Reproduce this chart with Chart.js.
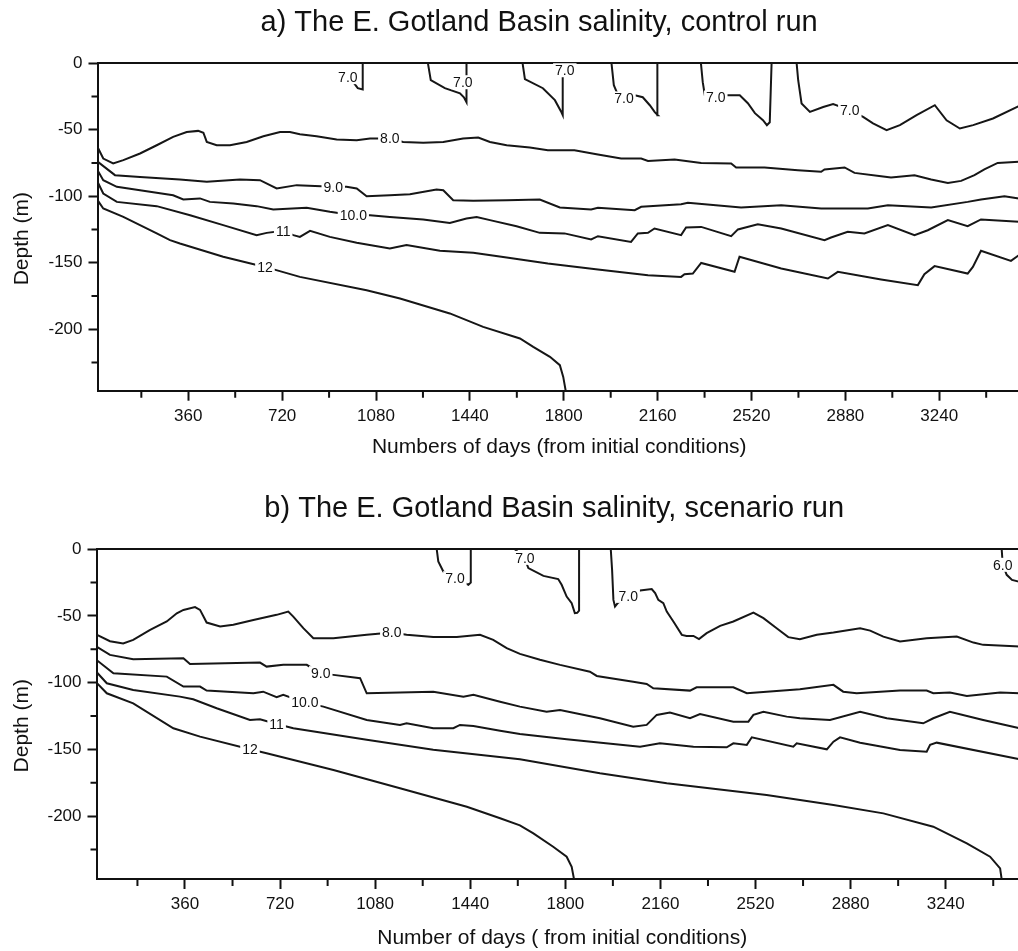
<!DOCTYPE html>
<html>
<head>
<meta charset="utf-8">
<script src="https://cdn.jsdelivr.net/npm/chart.js"></script>
<style>
  html, body { margin: 0; padding: 0; background: #fff; overflow: hidden; width: 1018px; height: 951px; }
  .panel { position: absolute; left: 0; }
</style>
</head>
<body>
<div class="panel" style="top:0; width:1021px; height:486px"><canvas id="ctl"></canvas></div>
<div class="panel" style="top:486px; width:1028px; height:486px"><canvas id="scn"></canvas></div>
<script>
// axis ticks
const xMajorTicks = [360, 720, 1080, 1440, 1800, 2160, 2520, 2880, 3240];
const xMinorTicks = [180, 540, 900, 1260, 1620, 1980, 2340, 2700, 3060, 3420];
const yMajorTicks = [0, -50, -100, -150, -200];
const yMinorTicks = [-25, -75, -125, -175, -225];

// a) control run: isohalines as [day, depth], null = break between pieces
const ctl7 = [
  [965, -6], [987, -12.8], [1010, -18.8], [1029, -19.8], [1029, 0], null,
  [1279, 0], [1290, -12.8], [1344, -18.8], [1402, -22.6], [1417, -25.6], [1427, -29.3], [1427, 0], null,
  [1642, 0], [1651, -12], [1720, -18.8], [1766, -27.8], [1789, -36.1], [1796, -39.1], [1796, 0], null,
  [1983, 0], [1992, -16.5], [2008, -24], [2031, -26.5], [2073, -24.1], [2103, -25.6], [2130, -31.6], [2149, -36.8], [2161, -39.1], [2159, 0], null,
  [2326, 0], [2333, -14.3], [2341, -24.1], [2383, -25.8], [2425, -24.1], [2475, -24.1], [2506, -30.1], [2533, -37.6], [2564, -42.9], [2579, -46.6], [2590, -44.4], [2597, 0], null,
  [2693, 0], [2699, -12.8], [2712, -30.3], [2744, -36.6], [2795, -32.9], [2833, -30.8], [2897, -35.3], [2948, -40.4], [2986, -45.3], [3038, -50.4], [3089, -46.6], [3153, -39.1], [3223, -31.6], [3268, -42.9], [3319, -49.1], [3370, -46.6], [3446, -41.6], [3545, -32.3]
];
const ctl8 = [
  [12, -63], [34, -71.7], [72, -75.4], [111, -72.9], [175, -67.9], [239, -61.7], [302, -55.4], [354, -51.7], [398, -50.9], [418, -52.3], [431, -59.2],
  [469, -61.7], [520, -61.7], [584, -59.2], [648, -54.9], [712, -51.7], [750, -51.7], [788, -53.4], [852, -54.9], [929, -57.4], [1006, -57.9], [1057, -56.6],
  [1133, -56.6], [1184, -59.2], [1261, -59.9], [1338, -59.2], [1414, -56.6], [1472, -55.9], [1517, -59.2], [1581, -61.7], [1670, -63.4], [1739, -65.4],
  [1841, -65.4], [1931, -68.6], [2020, -71.7], [2097, -71.7], [2123, -73.5], [2225, -72.4], [2327, -75], [2442, -75.4], [2461, -78.4], [2570, -78.4],
  [2698, -80.5], [2787, -81.7], [2800, -79.9], [2877, -78.4], [2915, -82.5], [3017, -85], [3055, -85.9], [3145, -84.2], [3209, -87.4], [3273, -90],
  [3324, -88.5], [3375, -84.2], [3413, -79.9], [3464, -75], [3545, -74.2]
];
const ctl9 = [
  [12, -74], [79, -84.2], [175, -85.5], [328, -87.4], [431, -89.2], [558, -87.4], [635, -88], [699, -94.2], [776, -91.7], [916, -93], [967, -93],
  [1006, -94.2], [1044, -100], [1133, -99.3], [1210, -98.5], [1312, -95], [1338, -95.5], [1376, -103], [1453, -103.5], [1581, -103], [1708, -102.5],
  [1785, -108.5], [1905, -110], [1931, -108.8], [2072, -110.5], [2097, -108], [2250, -106], [2276, -105], [2480, -108.5], [2634, -106.8], [2787, -109.3],
  [2966, -109.3], [3043, -106.8], [3209, -108.5], [3349, -104.3], [3400, -102.5], [3490, -100], [3545, -101.7]
];
const ctl10 = [
  [12, -80.5], [34, -88], [86, -93], [175, -95.5], [302, -99.3], [341, -102.5], [405, -101.7], [443, -104.3], [533, -105.5], [622, -107.5], [686, -110],
  [814, -108.8], [903, -111.8], [993, -114.3], [1057, -114.3], [1133, -115.6], [1261, -117.5], [1363, -120.1], [1427, -116.8], [1466, -115.6], [1517, -118],
  [1619, -122.6], [1708, -127.6], [1803, -128], [1905, -132.6], [1931, -130.1], [2058, -134.4], [2084, -128], [2123, -127.6], [2148, -124.3], [2250, -129.3],
  [2269, -123.5], [2327, -123.1], [2442, -130.1], [2468, -125], [2544, -121.1], [2634, -124.3], [2800, -133.1], [2825, -131.1], [2889, -126.8], [2953, -128],
  [3043, -121.8], [3145, -129.3], [3196, -125.6], [3273, -118], [3349, -122.6], [3400, -117.5], [3545, -119.3]
];
const ctl11 = [
  [12, -89.2], [34, -98], [86, -104.3], [239, -107.5], [367, -114.3], [494, -121.8], [622, -129.3], [661, -127.6], [724, -126.1], [763, -129.3], [788, -130.6],
  [827, -126.1], [903, -130.6], [1006, -135.1], [1133, -139.3], [1197, -136.8], [1325, -141.1], [1453, -142.6], [1581, -146.1], [1739, -150.6], [1931, -155.1],
  [2123, -159.4], [2250, -160.7], [2263, -158.7], [2295, -158.2], [2327, -150.2], [2455, -156.9], [2474, -145.6], [2634, -154.4], [2813, -161.9], [2851, -156.9],
  [3017, -162.6], [3158, -166.9], [3183, -158.7], [3222, -152.6], [3349, -158.2], [3369, -153.2], [3400, -141.1], [3515, -148.7], [3545, -144.4]
];
const ctl12 = [
  [12, -103], [34, -109.3], [111, -115.6], [239, -128], [290, -133.1], [328, -135.6], [494, -145.6], [654, -153.2], [788, -160.7], [1044, -170.7],
  [1172, -176.9], [1363, -188.2], [1491, -198.3], [1632, -207], [1683, -213.3], [1747, -220.8], [1785, -227.1], [1798, -235.9], [1808, -247]
];
const ctlLabels = [
  ['7.0', 972, -10.5], ['7.0', 1413, -14.3], ['7.0', 1804, -5.3], ['7.0', 2031, -26.5], ['7.0', 2383, -25.8], ['7.0', 2897, -35.3],
  ['8.0', 1133, -56.6], ['9.0', 916, -93], ['10.0', 993, -114.3], ['11', 724, -126.1], ['12', 654, -153.2]
];

// b) scenario run
const scn6 = [[3452, 0], [3456, -11.7], [3471, -19.2], [3491, -23], [3520, -24.5]];
const scn7 = [
  [1313, 0], [1319, -9.2], [1338, -16.7], [1382, -21.7], [1433, -26.7], [1442, -25], [1442, 0], null,
  [1609, 0], [1647, -7.4], [1660, -14.2], [1717, -20], [1773, -22.4], [1786, -26.7], [1805, -35.5], [1824, -40.4], [1836, -47.9], [1845, -47.7], [1852, -46], [1852, 0], null,
  [1972, 0], [1977, -15.5], [1982, -38], [1988, -43], [1999, -40.2], [2038, -35], [2083, -31], [2127, -29.9], [2140, -32.9], [2152, -38], [2171, -40.4],
  [2184, -46.7], [2209, -54.2], [2241, -64.2], [2259, -65], [2285, -65], [2306, -67.4], [2335, -62.9], [2386, -57.5], [2436, -54.2], [2512, -47.5],
  [2550, -51.7], [2600, -59.2], [2644, -65.9], [2688, -67.4], [2752, -64.2], [2815, -62.5], [2916, -59.2], [2954, -61], [3004, -65.5], [3067, -69.2],
  [3168, -66.7], [3282, -65.5], [3345, -70], [3382, -71.7], [3520, -73]
];
const scn8 = [
  [25, -64], [76, -69], [126, -70.7], [164, -68], [228, -60.5], [291, -54.2], [329, -48], [354, -45.5], [398, -43.4], [417, -45.5], [442, -55], [493, -58],
  [543, -56.7], [619, -53], [707, -49.2], [751, -46.7], [770, -50.5], [808, -59.2], [846, -66.7], [922, -66.7], [1048, -64.2], [1143, -62.5], [1199, -64.2],
  [1300, -65.9], [1389, -65.9], [1477, -64.2], [1527, -68], [1578, -74.2], [1628, -78.5], [1704, -82.9], [1780, -86.7], [1893, -91.8], [1919, -95],
  [2057, -99.3], [2108, -101], [2133, -104.2], [2272, -106], [2297, -103.5], [2436, -103.5], [2487, -108], [2562, -106.8], [2688, -105], [2815, -101.7],
  [2852, -106.8], [2903, -108], [3067, -106], [3168, -106], [3193, -108], [3256, -107.5], [3320, -110], [3446, -107.5], [3520, -108]
];
const scn9 = [
  [25, -73], [76, -79.2], [164, -82.4], [354, -81.7], [379, -86], [644, -85], [669, -88], [732, -86.7], [821, -86.7], [871, -92.9], [922, -94.2],
  [1023, -96.7], [1048, -108], [1300, -106.8], [1414, -110.5], [1452, -109.2], [1553, -114.3], [1628, -118], [1729, -121.8], [1780, -120.5], [1931, -126.7],
  [2057, -133], [2108, -131.7], [2146, -124.2], [2196, -122.5], [2272, -126.7], [2310, -123.5], [2436, -129.3], [2493, -129.3], [2512, -124.2], [2550, -121.8],
  [2638, -125.5], [2688, -126.7], [2802, -128], [2916, -121.8], [3017, -126.7], [3155, -130.5], [3193, -126.7], [3256, -121.8], [3382, -128], [3520, -134.2]
];
const scn10 = [
  [25, -83], [89, -93], [291, -95.5], [354, -103], [417, -103], [442, -106], [619, -108], [656, -106.8], [707, -111], [732, -109.2], [814, -115], [884, -118],
  [1048, -128], [1174, -131.7], [1199, -130.5], [1300, -134.2], [1376, -134.2], [1401, -131.7], [1452, -132.5], [1553, -136], [1628, -138.5], [1805, -142.5],
  [2083, -148], [2158, -145.5], [2285, -148], [2411, -148.5], [2436, -145.5], [2487, -146.7], [2506, -141], [2663, -148], [2676, -145.5], [2790, -150],
  [2815, -144.3], [2840, -141], [2916, -145], [3067, -150.5], [3168, -151.8], [3181, -146.7], [3206, -145], [3520, -157.5]
];
const scn11 = [
  [25, -92], [64, -100.5], [164, -105.5], [341, -110.5], [391, -112.5], [480, -119.2], [606, -128], [644, -127.5], [707, -131], [770, -134.2], [1048, -142.8],
  [1300, -150.3], [1628, -157.5], [1931, -168], [2184, -175.5], [2562, -184.3], [2815, -191.8], [3004, -198], [3193, -208], [3320, -220.5], [3408, -230.5],
  [3446, -239.2], [3452, -247.5]
];
const scn12 = [
  [25, -100], [64, -108], [164, -115.5], [316, -134.2], [417, -140.5], [606, -150], [669, -153], [922, -165.5], [1174, -179.2], [1427, -193], [1553, -201.7],
  [1628, -207], [1679, -213], [1754, -223], [1805, -230.5], [1824, -238], [1833, -247.5]
];
const scnLabels = [
  ['7.0', 1382, -21.7], ['7.0', 1647, -6.5], ['7.0', 2038, -35], ['6.0', 3456, -11.7],
  ['8.0', 1143, -62.5], ['9.0', 874, -92.9], ['10.0', 814, -115], ['11', 707, -131], ['12', 606, -150]
];

Chart.defaults.font.family = "'Liberation Sans', Arial, Helvetica, sans-serif";
Chart.defaults.color = '#111';

function toPoints(pairs) {
  let lastX = 0;
  return pairs.map(p => {
    if (p === null) return { x: lastX, y: null };
    lastX = p[0];
    return { x: p[0], y: p[1] };
  });
}

function drawContourLabels(chart, items) {
  const { ctx, scales } = chart;
  ctx.save();
  ctx.font = "14px 'Liberation Sans', Arial, sans-serif";
  ctx.textAlign = 'center';
  ctx.textBaseline = 'middle';
  items.forEach(([text, day, depth]) => {
    const px = scales.x.getPixelForValue(day);
    const py = scales.y.getPixelForValue(depth);
    const w = ctx.measureText(text).width;
    ctx.fillStyle = '#fff';
    ctx.fillRect(px - w / 2 - 2, py - 7, w + 4, 14);
    ctx.fillStyle = '#111';
    ctx.fillText(text, px, py + 1);
  });
  ctx.restore();
}

// shorter tick marks between the labelled ones
const minorTicks = {
  id: 'minorTicks',
  afterDraw(chart) {
    const { ctx, chartArea, scales } = chart;
    ctx.save();
    ctx.strokeStyle = '#111';
    ctx.lineWidth = 2;
    ctx.beginPath();
    xMinorTicks.forEach(v => {
      const px = scales.x.getPixelForValue(v);
      if (px > chartArea.left && px < chartArea.right) {
        ctx.moveTo(px, chartArea.bottom);
        ctx.lineTo(px, chartArea.bottom + 7);
      }
    });
    yMinorTicks.forEach(v => {
      const py = scales.y.getPixelForValue(v);
      ctx.moveTo(chartArea.left, py);
      ctx.lineTo(chartArea.left - 6, py);
    });
    ctx.stroke();
    ctx.restore();
  }
};

function panel(canvasId, o) {
  return new Chart(document.getElementById(canvasId), {
    type: 'line',
    data: {
      datasets: o.contours.map(c => ({
        data: toPoints(c),
        xAxisID: 'x',
        yAxisID: 'y',
        borderColor: '#161616',
        borderWidth: 2,
        pointRadius: 0,
        tension: 0,
        spanGaps: false,
        fill: false
      }))
    },
    options: {
      responsive: true,
      maintainAspectRatio: false,
      animation: false,
      events: [],
      layout: { padding: 0 },
      plugins: {
        legend: { display: false },
        tooltip: { enabled: false },
        title: {
          display: true,
          text: o.title,
          fullSize: false,
          color: '#111',
          font: { size: 29, weight: 'normal' },
          padding: { top: 6, bottom: 22.4 }
        }
      },
      scales: {
        x: {
          type: 'linear',
          position: 'bottom',
          min: o.xMin,
          max: o.xMax,
          afterBuildTicks: s => { s.ticks = xMajorTicks.map(v => ({ value: v })); },
          afterFit: s => { s.height = o.xAxisHeight; },
          ticks: { font: { size: 17 }, color: '#111', padding: 5, maxRotation: 0, autoSkip: false, callback: v => String(v) },
          grid: { drawOnChartArea: false, tickLength: 10, tickWidth: 2, tickColor: '#111' },
          border: { color: '#111', width: 2 },
          title: { display: true, text: o.xTitle, color: '#111', font: { size: 21 }, padding: { top: 4, bottom: o.xTitlePad } }
        },
        top: {
          type: 'linear',
          position: 'top',
          min: o.xMin,
          max: o.xMax,
          afterFit: s => { s.height = 0; },
          ticks: { display: false },
          grid: { display: false },
          border: { color: '#111', width: 2 }
        },
        y: {
          type: 'linear',
          position: 'left',
          min: o.yMin,
          max: 0,
          afterBuildTicks: s => { s.ticks = yMajorTicks.map(v => ({ value: v })); },
          afterFit: s => { s.width = o.yAxisWidth; },
          ticks: { font: { size: 17 }, color: '#111', padding: 6, callback: v => String(v) },
          grid: { drawOnChartArea: false, tickLength: 9, tickWidth: 2, tickColor: '#111' },
          border: { color: '#111', width: 2 },
          title: { display: true, text: 'Depth (m)    ', color: '#111', font: { size: 21 }, padding: { top: 9.5, bottom: 0 } }
        }
      }
    },
    plugins: [
      { id: 'contourLabels', afterDatasetsDraw: chart => drawContourLabels(chart, o.labels) },
      minorTicks
    ]
  });
}

panel('ctl', {
  title: 'a) The E. Gotland Basin salinity, control run     ',
  xTitle: 'Numbers of days (from initial conditions)',
  contours: [ctl7, ctl8, ctl9, ctl10, ctl11, ctl12],
  labels: ctlLabels,
  xMin: 11.9, xMax: 3553.5, yMin: -246.3,
  yAxisWidth: 97.5, xAxisHeight: 95.3, xTitlePad: 26.4
});

panel('scn', {
  title: 'b) The E. Gotland Basin salinity, scenario run  ',
  xTitle: 'Number of days ( from initial conditions)',
  contours: [scn6, scn7, scn8, scn9, scn10, scn11, scn12],
  labels: scnLabels,
  xMin: 25, xMax: 3551.6, yMin: -247.2,
  yAxisWidth: 96.5, xAxisHeight: 93, xTitlePad: 21.4
});
</script>
</body>
</html>
